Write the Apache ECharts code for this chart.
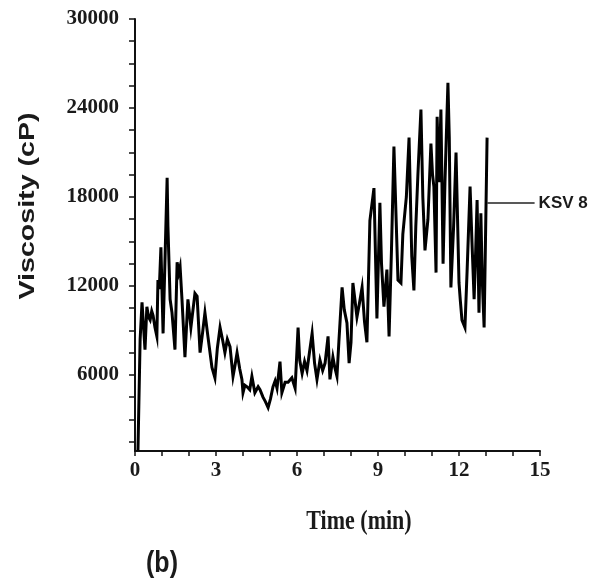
<!DOCTYPE html>
<html>
<head>
<meta charset="utf-8">
<script src="https://cdn.jsdelivr.net/npm/echarts@6/dist/echarts.min.js"></script>
<style>
html,body{margin:0;padding:0;background:#fff;}
#c{width:607px;height:585px;}
</style>
</head>
<body>
<div id="c"></div>
<script>
// ---- data ----
var time = [0.11,0.19,0.26,0.37,0.44,0.50,0.56,0.62,0.67,0.74,0.81,0.85,0.90,0.96,1.04,1.19,1.22,1.30,1.37,1.48,1.56,1.62,1.67,1.74,1.85,1.96,2.02,2.07,2.22,2.30,2.41,2.50,2.59,2.70,2.85,2.96,3.05,3.15,3.25,3.33,3.42,3.52,3.63,3.70,3.78,3.88,3.96,4.00,4.07,4.15,4.25,4.33,4.44,4.56,4.63,4.74,4.83,4.93,5.02,5.11,5.19,5.26,5.37,5.44,5.56,5.67,5.81,5.93,6.04,6.10,6.19,6.28,6.37,6.46,6.56,6.65,6.74,6.85,6.95,7.04,7.15,7.22,7.33,7.40,7.48,7.55,7.67,7.75,7.85,7.93,8.00,8.07,8.15,8.22,8.31,8.41,8.50,8.59,8.70,8.85,8.96,9.07,9.13,9.22,9.33,9.41,9.50,9.59,9.74,9.85,9.92,10.05,10.15,10.25,10.33,10.40,10.48,10.59,10.66,10.74,10.85,10.96,11.02,11.07,11.15,11.19,11.26,11.33,11.41,11.48,11.59,11.64,11.70,11.80,11.89,12.00,12.05,12.11,12.22,12.30,12.41,12.48,12.56,12.62,12.67,12.74,12.81,12.86,12.93,13.04];
var viscosity = [900,8400,10900,7700,10600,9900,9700,10300,10000,9200,8600,12400,11800,14600,8800,19300,16000,11100,10200,7700,13600,12900,13300,11100,7200,11100,10100,9200,11500,11300,7500,8800,10200,8600,6500,5800,7800,9200,8300,7500,8400,7900,5900,6600,7500,6400,5700,4800,5300,5200,5000,5900,4800,5200,5000,4500,4200,3800,4400,5200,5600,5100,6900,4800,5500,5500,5800,5100,9200,7000,6100,6900,6300,7500,8800,6800,5700,7000,6300,6800,8600,5700,7200,6500,5900,8200,11900,10400,9500,6800,8200,12200,11000,9900,10800,11900,9600,8200,16400,18600,9800,17600,13500,10600,13100,8600,14500,21400,12400,12200,15500,18000,22000,14000,11700,16000,19600,23900,18000,14400,16500,21600,19500,18700,12900,23400,19000,23900,13500,19000,25700,22000,11900,16000,21000,12200,11000,9700,9200,13000,18700,15000,11100,14500,17800,10200,16900,12500,9200,22000];
var xTickLabels = [0,3,6,9,12,15];
var xMinorTicks = [0,1,2,3,4,5,6,7,8,9,10,11,12,13,14,15];
var yTickLabels = [6000,12000,18000,24000,30000];
var yMinorTicks = [1500,3000,4500,6000,7500,9000,10500,12000,13500,15000,16500,18000,19500,21000,22500,24000,25500,27000,28500,30000];
var seriesName = 'KSV 8';
var labelLevel = 17600;
var labelStart = 13.05, labelEnd = 14.8;

var pts = [];
for (var i = 0; i < time.length && i < viscosity.length; i++) pts.push([time[i], viscosity[i]]);

var chart = echarts.init(document.getElementById('c'), null, {renderer:'canvas'});
var tickFont = {fontFamily:'Liberation Serif', fontWeight:'bold', fontSize:21, color:'#1a1a1a'};
chart.setOption({
  animation:false,
  backgroundColor:'#ffffff',
  grid:{left:135, right:67, top:19, bottom:134, containLabel:false},
  xAxis:{
    type:'value', min:0, max:15, interval:3,
    axisLine:{show:true, onZero:false, lineStyle:{color:'#111', width:2}},
    axisTick:{show:true, length:5, customValues:xMinorTicks, lineStyle:{color:'#111', width:1.5}},
    axisLabel:Object.assign({margin:9, customValues:xTickLabels, formatter:function(v){return String(v);}}, tickFont),
    splitLine:{show:false}
  },
  yAxis:{
    type:'value', min:870, max:30000,
    axisLine:{show:true, lineStyle:{color:'#111', width:2}},
    axisTick:{show:true, length:6, customValues:yMinorTicks, lineStyle:{color:'#111', width:1.5}},
    axisLabel:Object.assign({margin:16, customValues:yTickLabels, formatter:function(v){return String(v);}}, tickFont),
    splitLine:{show:false}
  },
  graphic:[
    {type:'text', x:28, y:206, rotation:Math.PI/2, scaleX:1.3, scaleY:1,
     style:{text:'Viscosity (cP)', font:'bold 22px "Liberation Sans"', fill:'#1a1a1a', textAlign:'center', textVerticalAlign:'middle'}},
    {type:'text', x:359, y:522, scaleX:1, scaleY:1.2,
     style:{text:'Time (min)', font:'bold 22px "Liberation Serif"', fill:'#1a1a1a', textAlign:'center', textVerticalAlign:'middle'}},
    {type:'text', x:162, y:564, scaleX:1, scaleY:1.15,
     style:{text:'(b)', font:'bold 25px "Liberation Sans"', fill:'#1a1a1a', textAlign:'center', textVerticalAlign:'middle'}}
  ],
  series:[{
    type:'line', name:seriesName, data:pts, showSymbol:false, symbol:'none',
    lineStyle:{color:'#000', width:3, join:'miter'},
    markLine:{
      silent:true, symbol:['none','none'],
      lineStyle:{color:'#222', width:1.5, type:'solid'},
      label:{show:true, position:'end', distance:4, formatter:seriesName, fontFamily:'Liberation Sans', fontWeight:'bold', fontSize:17, color:'#1a1a1a'},
      data:[[{coord:[labelStart, labelLevel]},{coord:[labelEnd, labelLevel]}]]
    }
  }]
});
</script>
</body>
</html>
